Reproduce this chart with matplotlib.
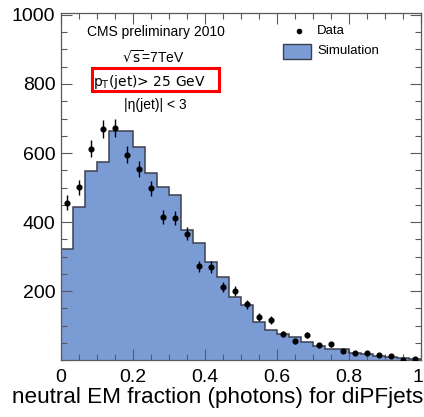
import numpy as np
import matplotlib
matplotlib.use("Agg")
import matplotlib.pyplot as plt
import matplotlib.transforms as mtransforms
from matplotlib.patches import Rectangle
from matplotlib.lines import Line2D

plt.rcParams['font.family'] = ['Liberation Sans', 'DejaVu Sans']

# 30 bins from 0 to 1
bin_edges = np.linspace(0, 1, 31)
sim_counts = [321, 443, 547, 574, 665, 665, 618, 542, 501, 479,
              376, 339, 286, 240, 182, 160, 112, 87, 76, 68,
              54, 42, 33, 33, 22, 18, 13, 10, 7, 5]
data_counts = [456, 501, 612, 670, 672, 595, 554, 498, 414, 411,
               366, 272, 270, 211, 200, 162, 126, 117, 75, 56,
               73, 43, 46, 28, 22, 20, 15, 13, 2, 3]
x_ticks = [0, 0.2, 0.4, 0.6, 0.8, 1]
x_tick_labels = ["0", "0.2", "0.4", "0.6", "0.8", "1"]
y_ticks = [200, 400, 600, 800, 1000]
y_tick_labels = ["200", "400", "600", "800", "1000"]

W, H = 424, 417
fig = plt.figure(figsize=(W / 100, H / 100), dpi=100)

def fx(px):
    return px / W

def fy(py):
    return 1 - py / H

ax = fig.add_axes([fx(61), fy(360.3), fx(421) - fx(61), fy(12.5) - fy(360.3)])

fill_color = '#7b9bd5'
edge_color = '#3c4150'

ax.stairs(sim_counts, bin_edges, fill=True, facecolor=fill_color,
          edgecolor='none', zorder=1)
ax.stairs(sim_counts, bin_edges, fill=False, edgecolor=edge_color,
          linewidth=1.1, zorder=2)

centers = 0.5 * (bin_edges[:-1] + bin_edges[1:])
data_arr = np.array(data_counts, dtype=float)
ax.errorbar(centers, data_arr, yerr=np.sqrt(data_arr), fmt='o', color='black',
            markersize=3.4, elinewidth=1.0, capsize=0, zorder=3)

ax.set_xlim(0, 1)
ax.set_ylim(0, 1007)
ax.set_xticks(x_ticks)
ax.set_xticklabels(x_tick_labels)
ax.set_yticks(y_ticks)
ax.set_yticklabels(y_tick_labels)
ax.set_xticks(np.arange(0, 1.0001, 0.05), minor=True)
ax.set_yticks(np.arange(0, 1001, 50), minor=True)

frame_color = '#5a5a5a'
for s in ax.spines.values():
    s.set_color(frame_color)
    s.set_linewidth(0.9)
ax.tick_params(which='both', direction='in', top=True, right=True,
               color=frame_color, width=0.8)
ax.tick_params(which='major', length=8, labelsize=14, pad=4)
ax.tick_params(which='minor', length=4)
ax.tick_params(axis='x', which='major', pad=6)

# nudge the last x tick label so it stays inside the figure
last_lbl = ax.get_xticklabels()[-1]
last_lbl.set_transform(last_lbl.get_transform() +
                       mtransforms.ScaledTranslation(-3 / 100, 0, fig.dpi_scale_trans))

# x title right-aligned to the figure edge (ROOT-style)
fig.text(fx(423), fy(397), "neutral EM fraction (photons) for diPFjets",
         fontsize=16.2, ha='right', va='center')

# Annotations
fig.text(fx(156), fy(32), "CMS preliminary 2010", fontsize=10,
         ha='center', va='center')
fig.text(fx(153), fy(58), r"$\sqrt{\mathrm{s}}$=7TeV", fontsize=10,
         ha='center', va='center')
fig.text(fx(149), fy(82), r"p$_{\mathrm{T}}$(jet)> 25 GeV", fontsize=10,
         ha='center', va='center', family=['DejaVu Sans'])
fig.text(fx(155), fy(105), "|η(jet)| < 3", fontsize=10,
         ha='center', va='center')
fig.patches.append(Rectangle((fx(92), fy(91)), fx(219) - fx(92), fy(68) - fy(91),
                             transform=fig.transFigure, fill=False,
                             edgecolor='red', linewidth=2.2))

# Legend
fig.lines.append(Line2D([fx(299)], [fy(31)], marker='o', markersize=3,
                        color='black', transform=fig.transFigure))
fig.text(fx(317), fy(31), "Data", fontsize=9.5, ha='left', va='center')
fig.patches.append(Rectangle((fx(283), fy(59)), fx(311) - fx(283), fy(44) - fy(59),
                             transform=fig.transFigure, facecolor=fill_color,
                             edgecolor=edge_color, linewidth=1.0))
fig.text(fx(317), fy(51), "Simulation", fontsize=9.5, ha='left', va='center')

fig.savefig("out.png", dpi=100)
